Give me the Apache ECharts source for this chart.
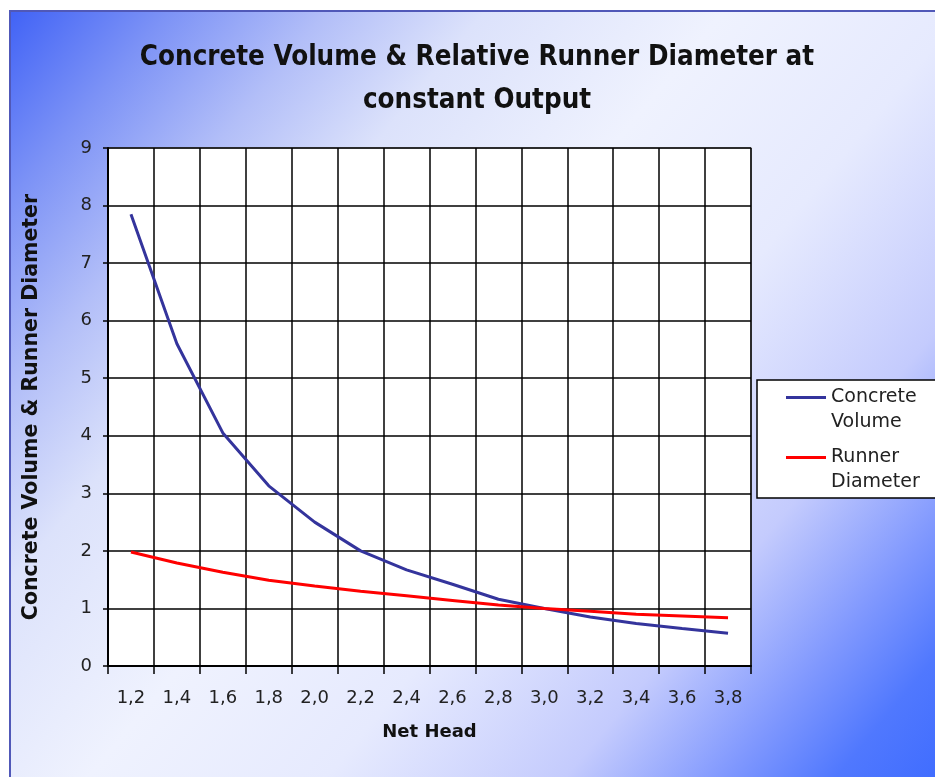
<!DOCTYPE html>
<html>
<head>
<meta charset="utf-8">
<script src="https://cdn.jsdelivr.net/npm/echarts@6/dist/echarts.min.js"></script>
<style>
  html, body { margin: 0; padding: 0; background: #fff; }
  #chart { width: 935px; height: 777px; }
</style>
</head>
<body>
<div id="chart"></div>
<script>
// net head categories (x axis)
const headLabels = ['1,2', '1,4', '1,6', '1,8', '2,0', '2,2', '2,4', '2,6', '2,8', '3,0', '3,2', '3,4', '3,6', '3,8']
// values
const concreteVolume = [7.85, 5.6, 4.05, 3.13, 2.5, 2.0, 1.67, 1.42, 1.16, 1.0, 0.85, 0.74, 0.65, 0.57]
const runnerDiameter = [1.98, 1.79, 1.63, 1.49, 1.39, 1.3, 1.22, 1.14, 1.06, 1.0, 0.95, 0.9, 0.87, 0.84]
const yMin = 0
const yMax = 9
const yStep = 1

const font = 'DejaVu Sans'

const chart = echarts.init(document.getElementById('chart'))

const option = {
  backgroundColor: '#fff',
  animation: false,
  graphic: [{
    type: 'rect',
    z: -10,
    silent: true,
    shape: { x: 10, y: 11, width: 940, height: 780 },
    style: {
      fill: {
        type: 'linear', x: 0, y: 0, x2: 1, y2: 1,
        colorStops: [
          { offset: 0, color: '#4062f6' },
          { offset: 0.1, color: '#7c92f6' },
          { offset: 0.2, color: '#b2bef8' },
          { offset: 0.3, color: '#dce2fb' },
          { offset: 0.45, color: '#eff2fe' },
          { offset: 0.6, color: '#e6eafe' },
          { offset: 0.75, color: '#c4cbfd' },
          { offset: 0.85, color: '#8098fe' },
          { offset: 0.92, color: '#5078fe' },
          { offset: 1, color: '#3c6aff' }
        ]
      },
      stroke: '#5058b8',
      lineWidth: 2
    }
  }],
  title: {
    text: 'Concrete Volume & Relative Runner Diameter at\nconstant Output',
    left: 472,
    top: 31,
    padding: 5,
    textAlign: 'center',
    textStyle: {
      fontFamily: "'DejaVu Sans Condensed', 'DejaVu Sans'",
      fontWeight: 'bold',
      fontSize: 27.5,
      lineHeight: 43,
      color: '#111'
    }
  },
  legend: {
    orient: 'vertical',
    left: 757,
    top: 380,
    padding: [5, 40, 3, 29],
    itemWidth: 40,
    itemHeight: 50,
    itemGap: 10,
    icon: 'path://M0,0H0.01V0.01H0Z M0,11H40V14H0Z M39.99,49.99H40V50H39.99Z',
    itemStyle: { borderWidth: 0 },
    backgroundColor: '#fff',
    borderColor: '#000',
    borderWidth: 1.5,
    borderRadius: 0,
    formatter: name => name.replace(' ', '\n'),
    textStyle: {
      fontFamily: font,
      fontSize: 19,
      lineHeight: 25,
      color: '#222'
    }
  },
  grid: {
    left: 108,
    top: 148,
    width: 643,
    height: 518,
    show: true,
    backgroundColor: '#fff',
    borderColor: '#999',
    borderWidth: 1.5
  },
  xAxis: {
    type: 'category',
    data: headLabels,
    boundaryGap: true,
    name: 'Net Head',
    nameLocation: 'middle',
    nameGap: 57,
    nameTextStyle: { fontFamily: font, fontWeight: 'bold', fontSize: 18, color: '#111' },
    axisLine: { lineStyle: { color: '#000', width: 2 } },
    axisTick: { show: true, length: 8, interval: 0, lineStyle: { color: '#000', width: 1.5 } },
    axisLabel: { interval: 0, margin: 23, fontFamily: font, fontSize: 18, color: '#222' },
    splitLine: { show: true, interval: 0, lineStyle: { color: '#000', width: 1.5 } }
  },
  yAxis: {
    type: 'value',
    min: yMin,
    max: yMax,
    interval: yStep,
    name: 'Concrete Volume & Runner Diameter',
    nameLocation: 'middle',
    nameRotate: 90,
    nameGap: 66,
    nameTextStyle: { fontFamily: font, fontWeight: 'bold', fontSize: 20.5, color: '#111' },
    axisLine: { show: true, lineStyle: { color: '#000', width: 2 } },
    axisTick: { show: true, length: 5, lineStyle: { color: '#000', width: 1.5 } },
    axisLabel: { margin: 16, fontFamily: font, fontSize: 18, color: '#222' },
    splitLine: { show: true, lineStyle: { color: '#000', width: 1.5 } }
  },
  series: [{
    name: 'Concrete Volume',
    type: 'line',
    data: concreteVolume,
    showSymbol: false,
    color: '#34349c',
    lineStyle: { width: 3, color: '#34349c' }
  }, {
    name: 'Runner Diameter',
    type: 'line',
    data: runnerDiameter,
    showSymbol: false,
    color: '#ff0000',
    lineStyle: { width: 3, color: '#ff0000' }
  }]
}

chart.setOption(option)
</script>
</body>
</html>
